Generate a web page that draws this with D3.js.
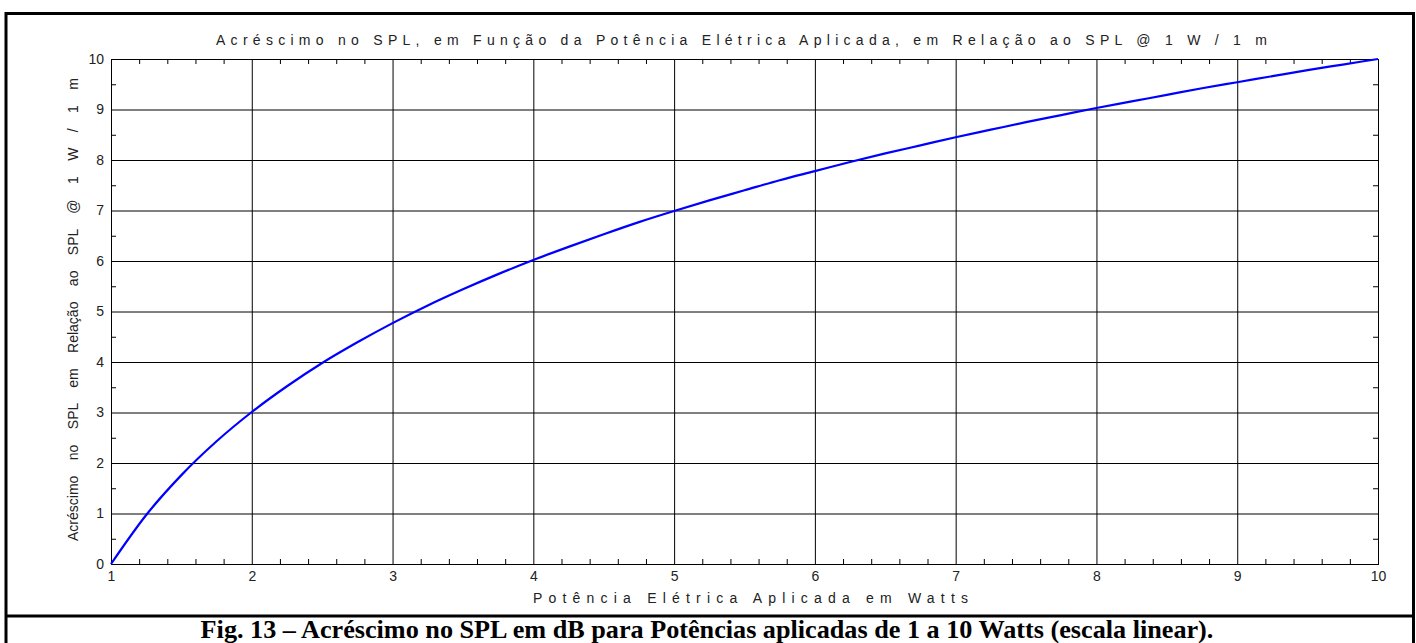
<!DOCTYPE html>
<html>
<head>
<meta charset="utf-8">
<script src="https://cdn.jsdelivr.net/npm/d3@7"></script>
<style>
  html, body { margin: 0; padding: 0; background: #fff; }
  svg { display: block; }
  .axis path { stroke: #000; }
  .axis line { stroke: #000; }
  .axis text { font-family: "Liberation Sans", Arial, sans-serif; font-size: 14px; fill: #222; }
</style>
</head>
<body>
<svg id="chart" width="1416" height="643"></svg>
<script>
// Applied electrical power (W) and resulting SPL increase (dB) relative to 1 W / 1 m
const powerWatts = [1, 1.25, 1.5, 1.75, 2, 2.25, 2.5, 2.75, 3, 3.25, 3.5, 3.75, 4, 4.25, 4.5, 4.75,
                    5, 5.25, 5.5, 5.75, 6, 6.25, 6.5, 6.75, 7, 7.25, 7.5, 7.75, 8, 8.25, 8.5, 8.75,
                    9, 9.25, 9.5, 9.75, 10];
const splIncrease = [0, 0.97, 1.76, 2.43, 3.01, 3.52, 3.98, 4.39, 4.77, 5.12, 5.44, 5.74, 6.02, 6.28, 6.53, 6.77,
                     6.99, 7.20, 7.40, 7.60, 7.78, 7.96, 8.13, 8.29, 8.45, 8.60, 8.75, 8.89, 9.03, 9.16, 9.29, 9.42,
                     9.54, 9.66, 9.78, 9.89, 10];

const xTicks = [1, 2, 3, 4, 5, 6, 7, 8, 9, 10];
const yTicks = [0, 1, 2, 3, 4, 5, 6, 7, 8, 9, 10];
const xMinorTicks = d3.range(10, 101, 2).map(v => v / 10).filter(v => v % 1 !== 0);
const yMinorTicks = d3.range(1, 20, 2).map(v => v / 2);

const titleText = "Acréscimo no SPL, em Função da Potência Elétrica Aplicada, em Relação ao SPL @ 1 W / 1 m";
const xLabelText = "Potência Elétrica Aplicada em Watts";
const yLabelText = "Acréscimo no SPL em Relação ao SPL @ 1 W / 1 m";
const captionText = "Fig. 13 – Acréscimo no SPL em dB para Potências aplicadas de 1 a 10 Watts (escala linear).";

const svg = d3.select("#chart");
const W = 1416, H = 643;
const plot = { left: 111, top: 59, right: 1378, bottom: 564 };
const pw = plot.right - plot.left, ph = plot.bottom - plot.top;

// Outer figure frame and caption separator
const frame = svg.append("g").attr("fill", "none").attr("stroke", "#000").attr("stroke-width", 3);
frame.append("line").attr("x1", 6).attr("x2", 1414).attr("y1", 13.5).attr("y2", 13.5);
frame.append("line").attr("x1", 6).attr("x2", 6).attr("y1", 12).attr("y2", H + 2);
frame.append("line").attr("x1", 1413.5).attr("x2", 1413.5).attr("y1", 12).attr("y2", H + 2);
frame.append("line").attr("x1", 6).attr("x2", 1414).attr("y1", 616).attr("y2", 616);

const x = d3.scaleLinear().domain([1, 10]).range([0, pw]);
const y = d3.scaleLinear().domain([0, 10]).range([ph, 0]);

const g = svg.append("g").attr("transform", `translate(${plot.left},${plot.top})`);

// Major grid lines
g.append("g").attr("class", "axis grid")
  .call(d3.axisBottom(x).tickValues(xTicks).tickSize(ph).tickFormat(""))
  .call(a => a.select(".domain").remove());
g.append("g").attr("class", "axis grid")
  .call(d3.axisRight(y).tickValues(yTicks).tickSize(pw).tickFormat(""))
  .call(a => a.select(".domain").remove());

// Minor inward ticks on all four sides
const tl = 5;
g.append("g").attr("class", "axis").attr("transform", `translate(0,${ph})`)
  .call(d3.axisBottom(x).tickValues(xMinorTicks).tickSizeInner(-tl).tickSizeOuter(0).tickFormat(""))
  .call(a => a.select(".domain").remove());
g.append("g").attr("class", "axis")
  .call(d3.axisTop(x).tickValues(xMinorTicks).tickSizeInner(-tl).tickSizeOuter(0).tickFormat(""))
  .call(a => a.select(".domain").remove());
g.append("g").attr("class", "axis")
  .call(d3.axisLeft(y).tickValues(yMinorTicks).tickSizeInner(-tl).tickSizeOuter(0).tickFormat(""))
  .call(a => a.select(".domain").remove());
g.append("g").attr("class", "axis").attr("transform", `translate(${pw},0)`)
  .call(d3.axisRight(y).tickValues(yMinorTicks).tickSizeInner(-tl).tickSizeOuter(0).tickFormat(""))
  .call(a => a.select(".domain").remove());

// Tick labels
g.append("g").attr("class", "axis").attr("transform", `translate(0,${ph})`)
  .call(d3.axisBottom(x).tickValues(xTicks).tickSize(0).tickPadding(7).tickFormat(d3.format("d")))
  .call(a => a.select(".domain").remove());
g.append("g").attr("class", "axis")
  .call(d3.axisLeft(y).tickValues(yTicks).tickSize(0).tickPadding(7).tickFormat(d3.format("d")))
  .call(a => a.select(".domain").remove());

// Plot box
g.append("rect").attr("x", 0.5).attr("y", 0.5).attr("width", pw).attr("height", ph)
  .attr("fill", "none").attr("stroke", "#000").attr("stroke-width", 1);

// Curve
const line = d3.line()
  .x((d, i) => x(powerWatts[i]))
  .y(d => y(d))
  .curve(d3.curveMonotoneX);
g.append("path").datum(splIncrease)
  .attr("d", line)
  .attr("fill", "none")
  .attr("stroke", "#0000ff")
  .attr("stroke-width", 2.2);

// Titles with spread lettering
const labelFont = "\"Liberation Sans\", Arial, sans-serif";
svg.append("text")
  .attr("x", 216).attr("y", 45)
  .attr("textLength", 1051).attr("lengthAdjust", "spacing")
  .attr("font-family", labelFont).attr("font-size", 14).attr("fill", "#222")
  .text(titleText);

svg.append("text")
  .attr("x", 533).attr("y", 603)
  .attr("textLength", 435).attr("lengthAdjust", "spacing")
  .attr("font-family", labelFont).attr("font-size", 14).attr("fill", "#222")
  .text(xLabelText);

// Y label: normal letters, wide gaps between words
const yl = svg.append("text")
  .attr("transform", `translate(78,${(78 + 541) / 2}) rotate(-90)`)
  .attr("text-anchor", "middle")
  .attr("font-family", labelFont).attr("font-size", 14).attr("fill", "#222")
  .text(yLabelText);
const natural = yl.node().getComputedTextLength();
const spaces = (yLabelText.match(/ /g) || []).length;
yl.attr("word-spacing", Math.max(0, (463 - natural) / spaces));

// Caption
const cap = svg.append("text")
  .attr("x", 707).attr("y", 638)
  .attr("text-anchor", "middle")
  .attr("font-family", "\"Liberation Serif\", \"Times New Roman\", serif")
  .attr("font-weight", "bold").attr("font-size", 20).attr("fill", "#000")
  .text(captionText);
const capW = cap.node().getComputedTextLength();
cap.attr("font-size", 20 * 1013 / capW);
</script>
</body>
</html>
